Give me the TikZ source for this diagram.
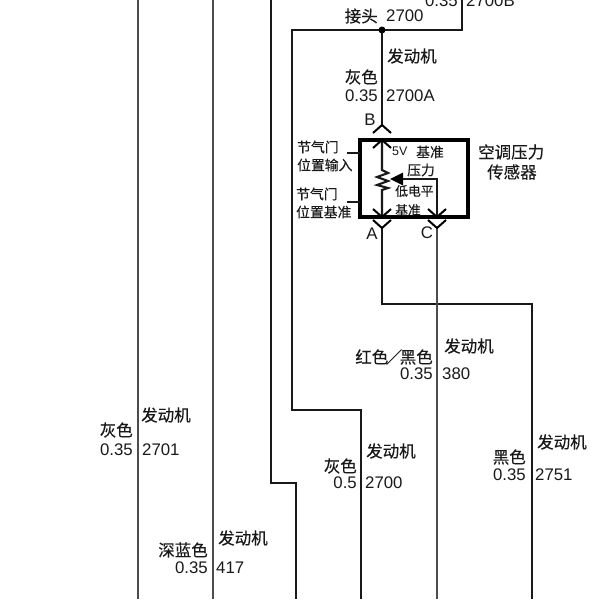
\documentclass[tikz,border=0pt]{standalone}
\usepackage{fontspec}
\setmainfont{Liberation Sans}
\newfontfamily\zh[FakeBold=0.25]{Noto Sans CJK SC}
\begin{document}
\begin{tikzpicture}[x=1pt,y=-1pt]
\tikzstyle{wire} = [draw=black!90, line width=2.1pt]
\tikzstyle{greywire} = [draw=black!70, line width=2.2pt]
\tikzstyle{tip} = [draw=black, line width=2pt]
\tikzstyle{box} = [draw=black, line width=3.4pt]
\tikzstyle{lab} = [inner sep=0pt, font=\fontsize{16.5pt}{17pt}\selectfont\zh, text=black!90]
\tikzstyle{num} = [inner sep=0pt, font=\fontsize{16.8pt}{17pt}\selectfont, text=black!90]
\tikzstyle{small} = [inner sep=0pt, font=\fontsize{13.8pt}{14pt}\selectfont\zh, text=black!90]
\useasboundingbox (0,0) rectangle (601,599);

  % connector and junction points
  \coordinate (j) at (382,30);
  \coordinate (b) at (382,125);
  \coordinate (bi) at (382,140);
  \coordinate (ai) at (382,217);
  \coordinate (ci) at (437,217);
  \coordinate (a) at (382,228);
  \coordinate (c) at (437,228);
  \coordinate (rt) at (382,170);
  \coordinate (rb) at (382,190);
  \coordinate (pr) at (402,179);

  % long wires
  \draw [greywire] (138,0) -- (138,599);
  \draw [greywire] (213,0) -- (213,599);
  \draw [wire] (271,0) -- (271,483) -- (296,483) -- (296,599);
  \draw [wire] (j) -- (292,30) -- (292,410) -- (361,410) -- (361,599);
  \draw [wire] (j) -- (462,30) -- (462,0);
  \draw [wire] (j) -- (b);
  \draw [wire] (a) -- (382,304) -- (532,304) -- (532,599);
  \draw [greywire] (c) -- (437,599);
  \fill [black] (j) circle (3.5pt);

  % sensor
  \draw [box] (360,140) rectangle (468,217);
  \draw [wire] (347,153) -- (360,153);
  \draw [wire] (347,202) -- (360,202);
  \draw [wire] (bi) -- (rt) -- (388,173) -- (377,177) -- (388,181) -- (377,185) -- (388,188) -- (rb) -- (ai);
  \draw [wire] (ci) -- (437,179) -- (pr);
  \fill [black] (390,179) -- (403,172.5) -- (403,185.5) -- cycle;

  % chevrons
  \foreach \p in {b,bi}
    \draw [tip] (\p) ++(-9,8) -- (\p) -- ++(9,8);
  \foreach \p in {ai,ci,a,c}
    \draw [tip] (\p) ++(-9,-8) -- (\p) -- ++(9,-8);

  % top
  \node (n0) [num,anchor=east] at (458,1) {0.35};
  \node (n1) [num,anchor=west] at (466,1) {2700B};
  \node (l1) [lab,anchor=east] at (378,16) {接头};
  \node (n2) [num,anchor=west] at (386,16) {2700};
  \node (l2) [lab,anchor=west] at (387,56) {发动机};
  \node (l3) [lab,anchor=east] at (378,77) {灰色};
  \node (n3) [num,anchor=east] at (378,96) {0.35};
  \node (n4) [num,anchor=west] at (386,96) {2700A};

  % pins
  \node (pb) [num] at (370,120) {B};
  \node (pa) [num] at (372,234) {A};
  \node (pc) [num] at (427,233) {C};

  % sensor texts
  \node (s1) [small,anchor=west] at (297,147) {节气门};
  \node (s2) [small,anchor=west] at (297,165) {位置输入};
  \node (s3) [small,anchor=west] at (296,194) {节气门};
  \node (s4) [small,anchor=west] at (296,212) {位置基准};
  \node (s5) [inner sep=0pt,anchor=west,font=\fontsize{12.5pt}{13pt}\selectfont,text=black!90] at (392,151) {5V};
  \node (s6) [small,anchor=west] at (416,152) {基准};
  \node (s7) [small,anchor=west] at (407,170) {压力};
  \node (s8) [small,font=\fontsize{12.8pt}{13pt}\selectfont\zh,anchor=west] at (395,191) {低电平};
  \node (s9) [small,font=\fontsize{12.8pt}{13pt}\selectfont\zh,anchor=west] at (395,210) {基准};
  \node (t1) [lab,anchor=west] at (478,152) {空调压力};
  \node (t2) [lab,anchor=west] at (487,172) {传感器};

  % wire labels
  \node (e1) [lab,anchor=west] at (444,346) {发动机};
  \node (c1) [lab,anchor=east] at (433,357) {红色\kern-2.5pt／\kern-2.5pt黑色};
  \node (g1) [num,anchor=east] at (433,374) {0.35};
  \node (w1) [num,anchor=west] at (442,374) {380};

  \node (e2) [lab,anchor=west] at (141,415) {发动机};
  \node (c2) [lab,anchor=east] at (133,430) {灰色};
  \node (g2) [num,anchor=east] at (133,450) {0.35};
  \node (w2) [num,anchor=west] at (142,450) {2701};

  \node (e3) [lab,anchor=west] at (218,538) {发动机};
  \node (c3) [lab,anchor=east] at (208,550) {深蓝色};
  \node (g3) [num,anchor=east] at (208,568) {0.35};
  \node (w3) [num,anchor=west] at (216,568) {417};

  \node (e4) [lab,anchor=west] at (366,451) {发动机};
  \node (c4) [lab,anchor=east] at (357,466) {灰色};
  \node (g4) [num,anchor=east] at (357,483) {0.5};
  \node (w4) [num,anchor=west] at (365,483) {2700};

  \node (e5) [lab,anchor=west] at (537,442) {发动机};
  \node (c5) [lab,anchor=east] at (526,457) {黑色};
  \node (g5) [num,anchor=east] at (526,475) {0.35};
  \node (w5) [num,anchor=west] at (535,475) {2751};
\end{tikzpicture}
\end{document}
